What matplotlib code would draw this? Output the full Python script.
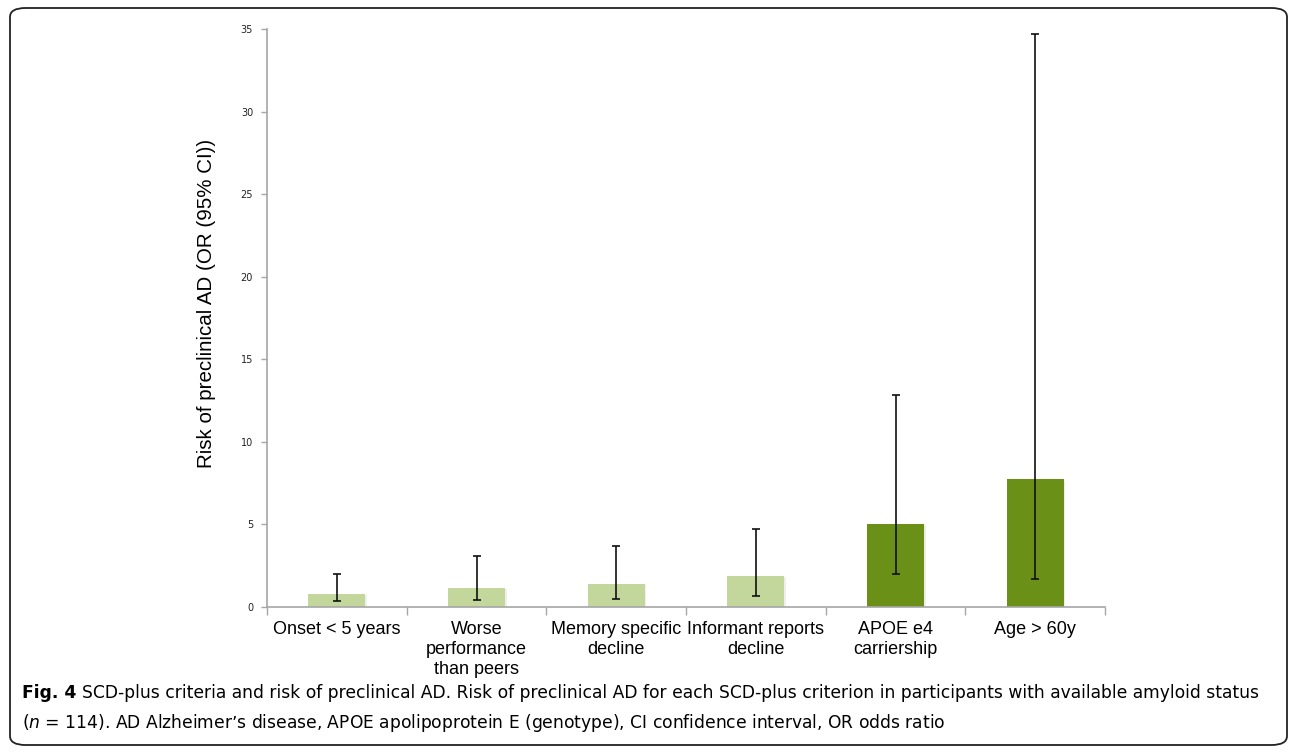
import matplotlib.pyplot as plt
import matplotlib.patheffects as pe
from matplotlib.patches import FancyBboxPatch
import numpy as np

# odds ratios with 95% CI
criteria = ['Onset < 5 years', 'Worse\nperformance\nthan peers', 'Memory specific\ndecline',
            'Informant reports\ndecline', 'APOE e4\ncarriership', 'Age > 60y']
odds_ratio = [0.79, 1.15, 1.39, 1.88, 5.05, 7.73]
ci_low = [0.34, 0.40, 0.48, 0.69, 2.00, 1.72]
ci_high = [2.02, 3.10, 3.67, 4.74, 12.86, 34.69]
colors = ['#C3D69B', '#C3D69B', '#C3D69B', '#C3D69B', '#6B9017', '#6B9017']
yticks = [0, 5, 10, 15, 20, 25, 30, 35]

W, H = 1292, 753
fig = plt.figure(figsize=(W / 100, H / 100), dpi=100)
ax = fig.add_axes([267 / W, 1 - 607 / H, (1105 - 267) / W, (607 - 29) / H])

x = np.arange(len(criteria))
err = [np.array(odds_ratio) - np.array(ci_low), np.array(ci_high) - np.array(odds_ratio)]
bars = ax.bar(x, odds_ratio, width=0.41, color=colors, zorder=2)
for b in bars:
    b.set_path_effects([pe.SimplePatchShadow(offset=(1, -1), alpha=0.08), pe.Normal()])
ax.errorbar(x, odds_ratio, yerr=err, fmt='none', ecolor='#111111', elinewidth=1.2,
            capsize=3, capthick=1.2, zorder=3)

ax.set_xlim(-0.5, len(criteria) - 0.5)
ax.set_ylim(0, 35)
ax.set_yticks(yticks)
ax.tick_params(axis='y', labelsize=7, length=4, color='#A6A6A6', width=1, pad=6, labelcolor='#222222')

ax.set_xticks(np.arange(len(criteria) + 1) - 0.5)
ax.set_xticklabels([])
ax.tick_params(axis='x', which='major', length=6, color='#A6A6A6', width=1, direction='out')
ax.set_xticks(x, minor=True)
ax.set_xticklabels(criteria, minor=True, fontsize=13, family='Liberation Sans', linespacing=1.23)
ax.tick_params(axis='x', which='minor', length=0, pad=10)

ax.set_ylabel('Risk of preclinical AD (OR (95% CI))', fontsize=14.8, family='Liberation Sans')
ax.yaxis.set_label_coords((207 - 267) / 838, 1 - (303 - 29) / 578)
ax.yaxis.label.set_va('center')

for s in ['top', 'right']:
    ax.spines[s].set_visible(False)
for s in ['left', 'bottom']:
    ax.spines[s].set_color('#A6A6A6')
    ax.spines[s].set_linewidth(1.2)

# rounded frame round the figure
frame = FancyBboxPatch((10 / W, 8 / H), (1287 - 10) / W, (745 - 8) / H,
                       boxstyle='round,pad=0,rounding_size=0.012', transform=fig.transFigure,
                       fill=False, edgecolor='#222222', linewidth=1.3)
fig.patches.append(frame)

# caption
cap_size = 12.35
fig_lbl = fig.text(22 / W, 1 - 693 / H, 'Fig. 4', fontsize=cap_size, fontweight='bold', va='center')
renderer = fig.canvas.get_renderer()
bb = fig_lbl.get_window_extent(renderer)
fig.text((bb.x1 + 6) / W, 1 - 693 / H,
         'SCD-plus criteria and risk of preclinical AD. Risk of preclinical AD for each SCD-plus criterion '
         'in participants with available amyloid status',
         fontsize=cap_size, va='center')
fig.text(22 / W, 1 - 723 / H,
         '($n$ = 114). AD Alzheimer\u2019s disease, APOE apolipoprotein E (genotype), CI confidence interval, OR odds ratio',
         fontsize=cap_size, va='center')

fig.savefig('out.png', dpi=100)
